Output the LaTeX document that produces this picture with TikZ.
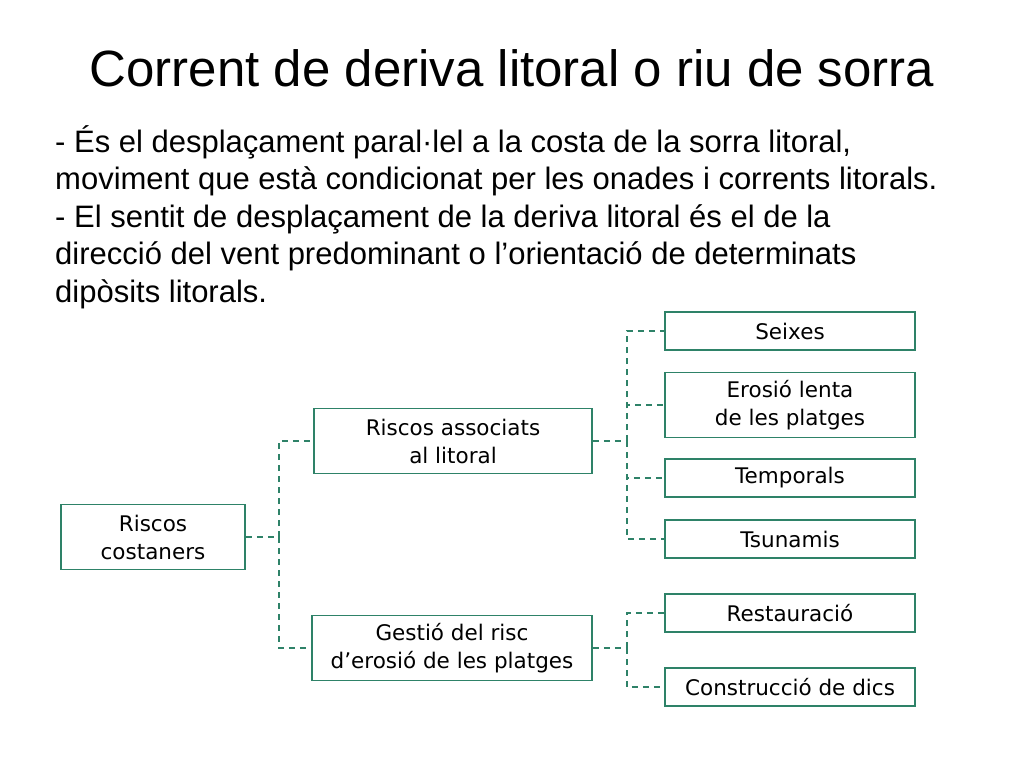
\documentclass[tikz,border=0pt]{standalone}
\usepackage{fontspec}
\setmainfont{Liberation Sans}
\newfontfamily\boxfont{DejaVu Sans}
\usetikzlibrary{positioning}
\definecolor{boxgreen}{RGB}{46,130,104}
\tikzset{
    riskbox/.style={draw=boxgreen,line width=1.8pt,inner sep=0pt,align=center,font=\boxfont\fontsize{21.5}{28}\selectfont},
    link/.style={draw=boxgreen,line width=1.8pt,dash pattern=on 6pt off 5pt},
}

\begin{document}
\begin{tikzpicture}[x=1pt,y=-1pt]
\useasboundingbox (0,0) rectangle (1024,768);
\node[font=\fontsize{51}{58}\selectfont] (title) at (512,68) {Corrent de deriva litoral o riu de sorra};
\node[anchor=north west,align=left,font=\fontsize{31}{37.5}\selectfont,inner sep=0pt] (text) at (55,125) {%
- És el desplaçament paral·lel a la costa de la sorra litoral,\\
moviment que està condicionat per les onades i corrents litorals.\\
- El sentit de desplaçament de la deriva litoral és el de la\\
direcció del vent predominant o l’orientació de determinats\\
dipòsits litorals.};
% boxes
\node[riskbox,minimum width=184,minimum height=65] (costaners) at (153,537) {Riscos\\costaners};
\node[riskbox,minimum width=278,minimum height=65] (associats) at (453,441) {Riscos associats\\al litoral};
\node[riskbox,minimum width=280,minimum height=65] (gestio) at (452,648) {Gestió del risc\\d’erosió de les platges};
\node[riskbox,minimum width=250,minimum height=38] (seixes) at (790,331) {Seixes};
\node[riskbox,minimum width=250,minimum height=65] (erosio) at (790,405) {Erosió lenta\\de les platges};
\node[riskbox,minimum width=250,minimum height=38] (temporals) at (790,478) {Temporals};
\node[riskbox,minimum width=250,minimum height=38] (tsunamis) at (790,539) {Tsunamis};
\node[riskbox,minimum width=250,minimum height=38] (restauracio) at (790,613) {Restauració};
\node[riskbox,minimum width=250,minimum height=38] (dics) at (790,687) {Construcció de dics};
% connectors
\draw[link] (costaners.east) -- ++(33,0) coordinate (busa);
\draw[link] (busa) |- (associats.west);
\draw[link] (busa) |- (gestio.west);
\draw[link] (associats.east) -- ++(34,0) coordinate (busb);
\foreach \n in {seixes,erosio,temporals,tsunamis}
    \draw[link] (busb) |- (\n.west);
\draw[link] (gestio.east) -- ++(34,0) coordinate (busc);
\foreach \n in {restauracio,dics}
    \draw[link] (busc) |- (\n.west);
\end{tikzpicture}
\end{document}
